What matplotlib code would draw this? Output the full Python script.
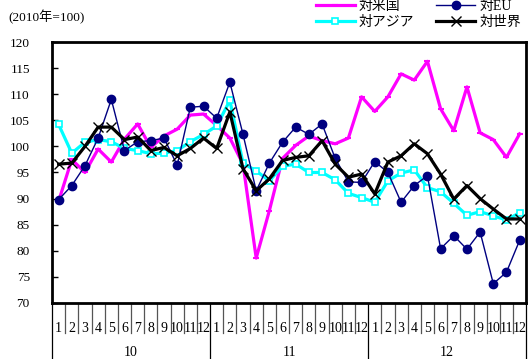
import matplotlib
matplotlib.use("Agg")
import matplotlib.pyplot as plt
import matplotlib.transforms as mtransforms

plt.rcParams['font.family'] = ['Liberation Serif', 'Noto Sans CJK JP', 'DejaVu Sans']

years = ["10", "11", "12"]
months = [str(m) for m in range(1, 13)] * 3

# 輸出数量指数 (2010年=100), 2010/1 - 2012/12
us = [89.5, 97.5, 95.0, 99.5, 97.0, 101.4, 104.3, 99.8, 102.0, 103.3, 106.0, 106.2,
      104.0, 101.6, 96.6, 78.6, 87.7, 97.7, 100.2, 102.0, 101.1, 100.5, 101.6, 109.5,
      106.7, 109.5, 113.9, 112.7, 116.3, 107.2, 103.0, 111.4, 102.6, 101.3, 97.9, 102.4]
eu = [89.8, 92.5, 96.3, 101.6, 109.0, 99.2, 100.9, 101.1, 101.6, 96.4, 107.5, 107.7,
      105.4, 112.3, 102.3, 91.5, 96.8, 100.8, 103.7, 102.3, 104.3, 97.7, 93.2, 93.1,
      97.1, 95.0, 89.3, 92.5, 94.4, 80.4, 82.9, 80.3, 83.6, 73.7, 75.9, 82.0]
asia = [104.2, 98.7, 100.8, 101.3, 100.9, 99.6, 99.2, 98.6, 98.7, 99.2, 100.9, 102.3,
        103.9, 108.8, 96.8, 95.3, 93.4, 96.2, 96.6, 95.0, 95.0, 93.6, 91.0, 90.2,
        89.3, 93.4, 94.9, 95.5, 92.1, 91.3, 89.1, 86.8, 87.5, 86.7, 85.9, 87.3]
world = [96.6, 96.8, 100.0, 103.7, 103.7, 101.3, 101.8, 99.2, 99.8, 98.2, 99.6, 101.6,
         99.6, 106.6, 95.7, 91.5, 93.8, 97.3, 97.9, 98.2, 101.1, 96.6, 94.1, 94.7,
         90.9, 97.0, 98.2, 100.5, 98.6, 94.7, 89.9, 92.5, 90.0, 88.0, 86.1, 86.1]

fig = plt.figure(figsize=(5.31, 3.59), dpi=100)
ax = fig.add_axes([0.098, 0.156, 0.893, 0.727])
x = list(range(len(months)))

l_us, = ax.plot(x, us, color="#FF00FF", lw=2.3, marker="_", ms=5, mew=1.5, label="対米国")
l_asia, = ax.plot(x, asia, color="#00FFFF", lw=2.3, marker="s", ms=5, mfc="white",
                  mec="#00FFFF", mew=1.2, label="対アジア")
l_eu, = ax.plot(x, eu, color="#000080", lw=1.0, marker="o", ms=6, label="対EU")
l_world, = ax.plot(x, world, color="black", lw=2.3, marker="x", ms=7, mew=1.0, label="対世界")

ax.set_xlim(-0.5, len(months) - 0.5)
ax.set_ylim(70, 120)
ax.set_yticks(range(70, 121, 5))
ax.tick_params(axis="y", direction="in", length=4, width=1, pad=16, labelsize=9.5)
ax.set_xticks(x)
ax.set_xticklabels(months, fontsize=10)
ax.tick_params(axis="x", length=0, pad=14)
for s in ax.spines.values():
    s.set_linewidth(2)

# month / year dividers below the axis
trans = mtransforms.blended_transform_factory(ax.transData, ax.transAxes)
for i in range(len(months) + 1):
    edge = i - 0.5
    if i % 12 == 0:
        ax.plot([edge, edge], [0, -0.22], transform=trans, color="black", lw=0.9, clip_on=False)
    else:
        ax.plot([edge, edge], [0, -0.115], transform=trans, color="#555555", lw=0.9, clip_on=False)
for k, yr in enumerate(years):
    ax.text(12 * k + 5.5, -0.19, yr, transform=trans, ha="center", va="center", fontsize=10)

fig.text(0.015, 0.953, "(2010年=100)", ha="left", va="center", fontsize=9.5)

fig.legend(handles=[l_us, l_asia, l_eu, l_world], ncol=2, loc="upper right",
           bbox_to_anchor=(1.005, 1.035), frameon=False, fontsize=10,
           handlelength=2.8, handletextpad=0.3, columnspacing=1.6, labelspacing=0.2)

fig.savefig("out.png", dpi=100)
